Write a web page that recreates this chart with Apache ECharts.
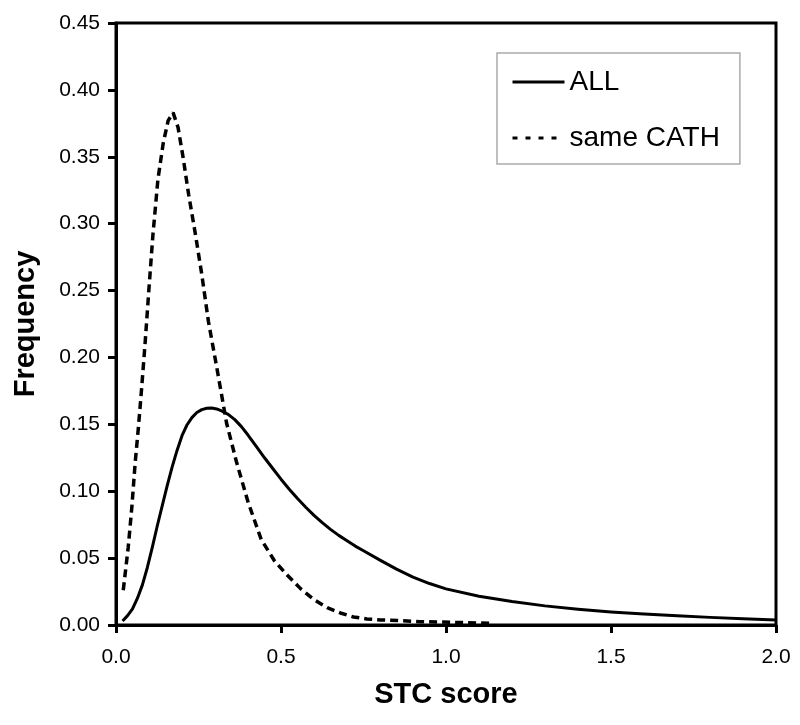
<!DOCTYPE html>
<html>
<head>
<meta charset="utf-8">
<script src="https://cdn.jsdelivr.net/npm/echarts@6/dist/echarts.min.js"></script>
<style>html,body{margin:0;padding:0;background:#fff;}#c{width:800px;height:725px;}</style>
</head>
<body>
<div id="c"></div>
<script>
var allX = [0.02, 0.035, 0.05, 0.065, 0.08, 0.095, 0.11, 0.125, 0.14, 0.155, 0.17, 0.185, 0.20, 0.215, 0.23, 0.245, 0.26, 0.275, 0.29, 0.305, 0.32, 0.34, 0.36, 0.38, 0.40, 0.425, 0.45, 0.475, 0.50, 0.525, 0.55, 0.575, 0.60, 0.625, 0.65, 0.675, 0.70, 0.725, 0.75, 0.80, 0.85, 0.90, 0.95, 1.00, 1.10, 1.20, 1.30, 1.40, 1.50, 1.60, 1.70, 1.80, 1.90, 2.00];
var allY = [0.003, 0.007, 0.012, 0.020, 0.030, 0.043, 0.058, 0.074, 0.089, 0.104, 0.118, 0.1305, 0.1415, 0.1495, 0.155, 0.1588, 0.161, 0.162, 0.1622, 0.1615, 0.160, 0.1574, 0.1535, 0.1483, 0.142, 0.1335, 0.125, 0.117, 0.109, 0.1015, 0.0945, 0.088, 0.082, 0.0765, 0.0715, 0.067, 0.063, 0.059, 0.0555, 0.0485, 0.0418, 0.0358, 0.031, 0.027, 0.0215, 0.0175, 0.0143, 0.0118, 0.0098, 0.0082, 0.0069, 0.0057, 0.0047, 0.0038];
var cathX = [0.022, 0.037, 0.048, 0.058, 0.068, 0.078, 0.088, 0.10, 0.112, 0.127, 0.143, 0.158, 0.173, 0.188, 0.203, 0.22, 0.24, 0.26, 0.28, 0.305, 0.335, 0.365, 0.40, 0.44, 0.48, 0.52, 0.56, 0.60, 0.64, 0.68, 0.72, 0.76, 0.80, 0.86, 0.92, 0.98, 1.05, 1.14];
var cathY = [0.026, 0.058, 0.088, 0.121, 0.148, 0.178, 0.210, 0.252, 0.292, 0.333, 0.360, 0.377, 0.383, 0.372, 0.350, 0.322, 0.293, 0.262, 0.227, 0.193, 0.151, 0.122, 0.092, 0.064, 0.048, 0.037, 0.027, 0.019, 0.013, 0.009, 0.006, 0.0045, 0.0038, 0.0033, 0.0025, 0.0022, 0.0018, 0.0012];
var xTicks = [0.0, 0.5, 1.0, 1.5, 2.0];
var yTicks = [0.00, 0.05, 0.10, 0.15, 0.20, 0.25, 0.30, 0.35, 0.40, 0.45];

function pairs(xs, ys) { return xs.map(function (x, i) { return [x, ys[i]]; }); }
var FONT = 'Arial, "Liberation Sans", sans-serif';
var chart = echarts.init(document.getElementById('c'), null, { renderer: 'canvas' });
chart.setOption({
  animation: false,
  backgroundColor: '#fff',
  grid: { left: 116, top: 23, right: 24, bottom: 100, show: true, borderColor: '#000', borderWidth: 3, backgroundColor: 'transparent' },
  legend: {
    orient: 'vertical', left: 497, top: 53,
    padding: [13, 20, 10, 14],
    itemWidth: 52, itemHeight: 14, itemGap: 24,
    borderColor: '#aaa', borderWidth: 1.5, backgroundColor: '#fff',
    itemStyle: { color: 'rgba(0,0,0,0)', borderWidth: 0, opacity: 0 },
    textStyle: { fontFamily: FONT, fontSize: 28, color: '#000', lineHeight: 32 },
    data: [
      { name: 'ALL', lineStyle: { type: 'solid', width: 3 } },
      { name: 'same CATH', lineStyle: { type: [5, 8], width: 3 } }
    ]
  },
  xAxis: {
    type: 'value', min: 0, max: 2, interval: 0.5,
    name: 'STC score', nameLocation: 'middle', nameGap: 55,
    nameTextStyle: { fontFamily: FONT, fontSize: 29, fontWeight: 'bold', color: '#000' },
    axisLine: { show: true, onZero: false, lineStyle: { color: '#000', width: 3 } },
    axisTick: { show: true, inside: false, length: 8, lineStyle: { color: '#000', width: 3 } },
    axisLabel: { fontFamily: FONT, fontSize: 21, color: '#000', margin: 22,
      formatter: function (v) { return xTicks.indexOf(v) >= 0 ? v.toFixed(1) : ''; } },
    splitLine: { show: false }
  },
  yAxis: {
    type: 'value', min: 0, max: 0.45, interval: 0.05,
    name: 'Frequency', nameLocation: 'middle', nameGap: 76,
    nameTextStyle: { fontFamily: FONT, fontSize: 29, fontWeight: 'bold', color: '#000' },
    axisLine: { show: true, onZero: false, lineStyle: { color: '#000', width: 3 } },
    axisTick: { show: true, inside: false, length: 8, lineStyle: { color: '#000', width: 3 } },
    axisLabel: { fontFamily: FONT, fontSize: 21, color: '#000', margin: 16,
      formatter: function (v) { return v.toFixed(2); } },
    splitLine: { show: false }
  },
  series: [
    { name: 'ALL', type: 'line', data: pairs(allX, allY), smooth: false, symbol: 'none',
      lineStyle: { color: '#000', width: 3, type: 'solid', join: 'round' }, itemStyle: { color: '#000' } },
    { name: 'same CATH', type: 'line', data: pairs(cathX, cathY), smooth: false, symbol: 'none',
      lineStyle: { color: '#000', width: 3.5, type: [8, 5] }, itemStyle: { color: '#000' } }
  ]
});
</script>
</body>
</html>
